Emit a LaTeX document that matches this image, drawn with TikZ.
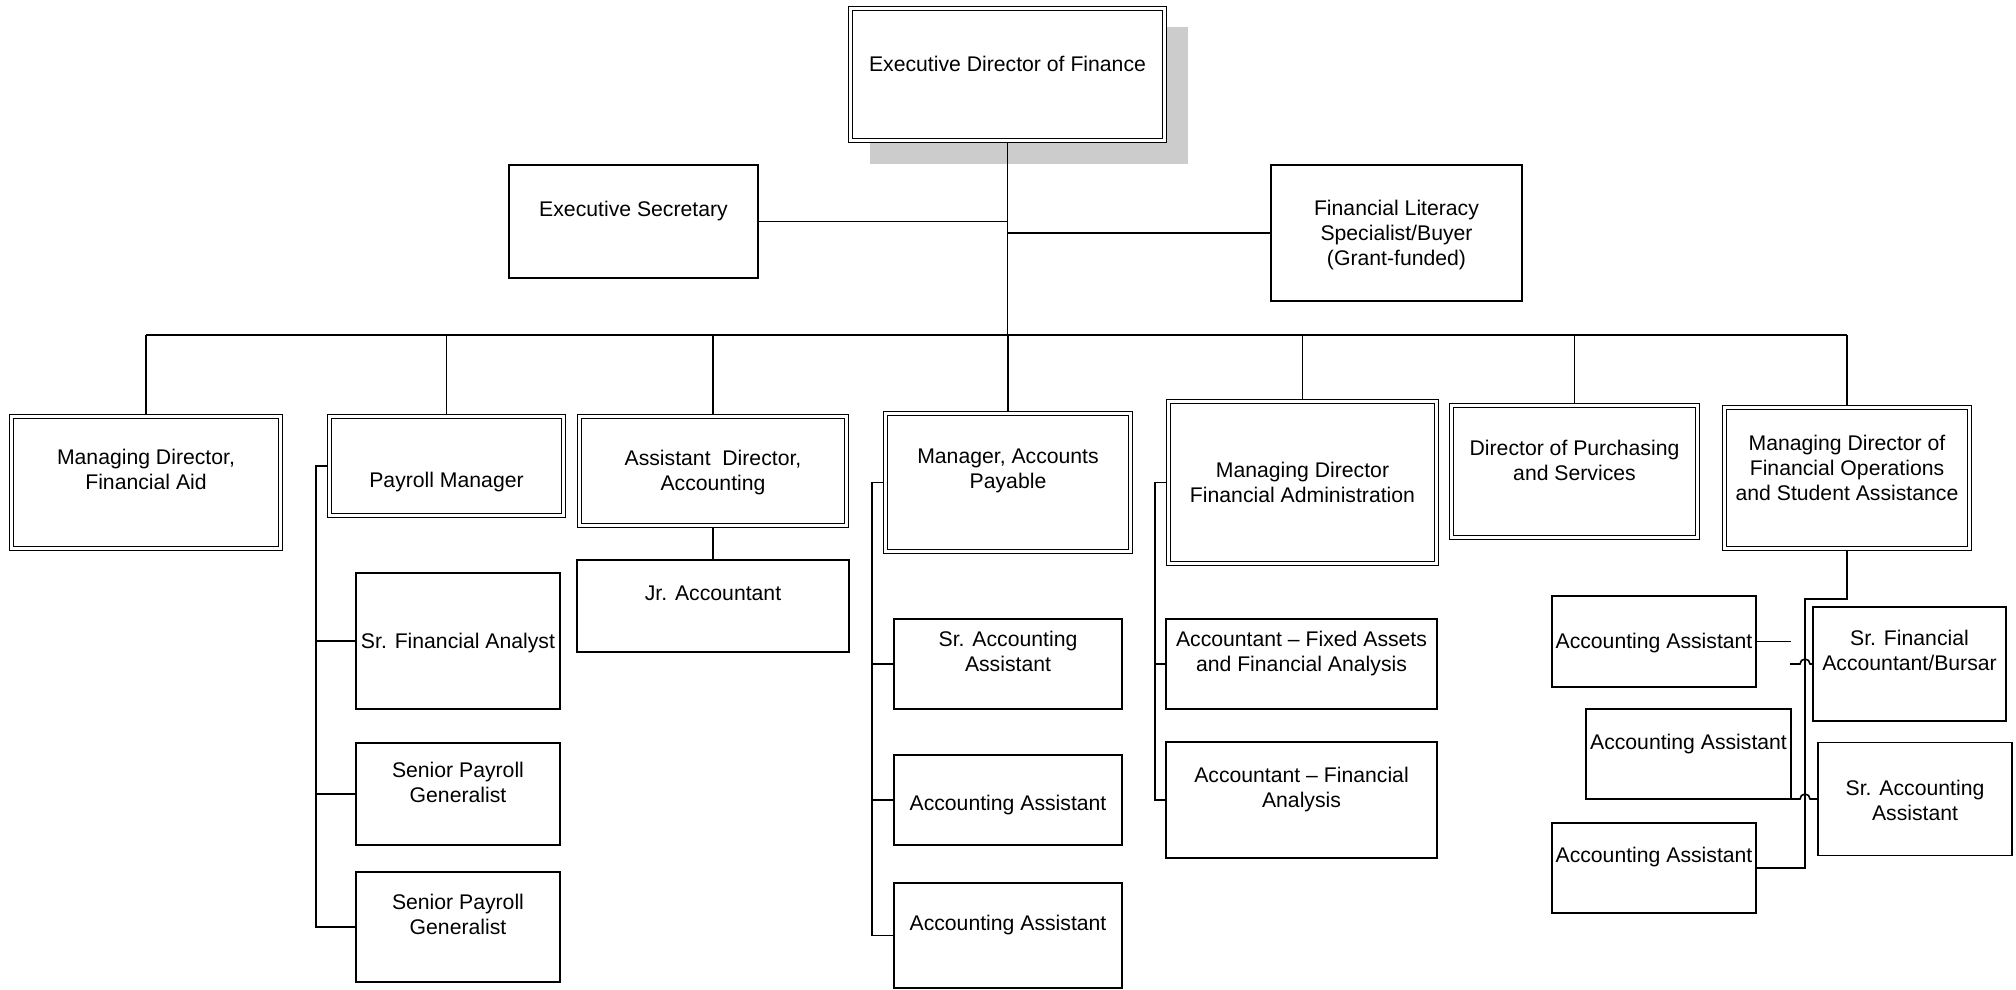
\documentclass[tikz,border=0pt]{standalone}
\usepackage{fontspec}
\setmainfont{Liberation Sans}
\usetikzlibrary{backgrounds}
\definecolor{ShadowGray}{HTML}{CCCCCC}
\newcommand{\roletext}[2]{\raisebox{#1pt}[0pt][0pt]{\begin{tabular}[t]{@{}c@{}}#2\end{tabular}}}

\begin{document}
\begin{tikzpicture}[x=1pt, y=-1pt,
  post/.style={draw, line width=1.5pt, fill=white, rectangle, inner sep=0pt, outer sep=0pt, font=\fontsize{21.2}{25.3}\selectfont},
  headpost/.style={post, double, double distance=3pt, line width=1.2pt},
  link/.style={line width=1.6pt}]
  \useasboundingbox (0,0) rectangle (2016,989);

  % Top level
  \node[headpost, minimum width=314, minimum height=132] (exec) at (1007.5,74.5) {\roletext{3.5}{Executive Director of Finance}};
  \node[post, minimum width=249, minimum height=113] (sec) at (633.5,221.5) {\roletext{5.5}{Executive Secretary}};
  \node[post, minimum width=251, minimum height=136] (lit) at (1396.5,233) {\roletext{18}{Financial Literacy\\Specialist/Buyer\\(Grant-funded)}};

  % Second row
  \node[headpost, minimum width=269, minimum height=132] (aid) at (146,482.5) {\roletext{18.5}{Managing Director,\\Financial Aid}};
  \node[headpost, minimum width=234, minimum height=99] (payroll) at (446.5,466) {\roletext{-21}{Payroll Manager}};
  \node[headpost, minimum width=267, minimum height=109] (asstdir) at (713,471) {\roletext{6}{Assistant~~Director,\\Accounting}};
  \node[headpost, minimum width=245, minimum height=138] (apmgr) at (1008,482.5) {\roletext{19.5}{Manager, Accounts\\Payable}};
  \node[headpost, minimum width=268, minimum height=162] (finadmin) at (1302.5,482.5) {\roletext{5.5}{Managing Director\\Financial Administration}};
  \node[headpost, minimum width=246, minimum height=132] (purch) at (1574.5,471.5) {\roletext{16.5}{Director of Purchasing\\and Services}};
  \node[headpost, minimum width=245, minimum height=141] (ops) at (1847,478) {\roletext{28}{Managing Director of\\Financial Operations\\and Student Assistance}};

  % Third row
  \node[post, minimum width=272, minimum height=92] (jracct) at (713,606) {\roletext{6}{Jr. Accountant}};
  \node[post, minimum width=204, minimum height=136] (sfa) at (458,641) {\roletext{-7}{Sr. Financial Analyst}};
  \node[post, minimum width=204, minimum height=102] (spg1) at (458,794) {\roletext{17}{Senior Payroll\\Generalist}};
  \node[post, minimum width=204, minimum height=110] (spg2) at (458,927) {\roletext{18}{Senior Payroll\\Generalist}};
  \node[post, minimum width=228, minimum height=90] (sraa) at (1008,664) {\roletext{18}{Sr. Accounting\\Assistant}};
  \node[post, minimum width=228, minimum height=90] (apaa1) at (1008,800) {\roletext{-10}{Accounting Assistant}};
  \node[post, minimum width=228, minimum height=105] (apaa2) at (1008,935.5) {\roletext{5.5}{Accounting Assistant}};
  \node[post, minimum width=271, minimum height=90] (fixed) at (1301.5,664) {\roletext{18}{Accountant -- Fixed Assets\\and Financial Analysis}};
  \node[post, minimum width=271, minimum height=116] (analysis) at (1301.5,800) {\roletext{18}{Accountant -- Financial\\Analysis}};

  % Operations group
  \node[post, minimum width=204, minimum height=91] (opsaa1) at (1654,641.5) {\roletext{-6.5}{Accounting Assistant}};
  \node[post, minimum width=193, minimum height=114] (bursar) at (1909.5,664) {\roletext{19}{Sr. Financial\\Accountant/Bursar}};
  \node[post, minimum width=205, minimum height=90] (opsaa2) at (1688.5,754) {\roletext{5}{Accounting Assistant}};
  \node[post, minimum width=194, minimum height=113] (sraa2) at (1915,799) {\roletext{4}{Sr. Accounting\\Assistant}};
  \node[post, minimum width=204, minimum height=90] (opsaa3) at (1654,868) {\roletext{6}{Accounting Assistant}};

  \begin{scope}[on background layer]
    % Shadow
    \fill[ShadowGray] (870,27) rectangle (1188,164);

    % Trunk and bus
    \coordinate (busL) at (146,335);
    \draw[link] (exec.south) -- (exec.south |- busL);
    \draw[link] (sec.east) -- (sec.east -| exec.south);
    \draw[link] (lit.west) -- (lit.west -| exec.south);
    \draw[link] (aid.north |- busL) -- (ops.north |- busL);
    \foreach \n in {aid,payroll,asstdir,apmgr,finadmin,purch,ops}
      \draw[link] (\n.north) -- (\n.north |- busL);

    % Payroll
    \draw[link] (payroll.west) -- ++(-13.5,0) coordinate (pspine) |- (spg2.west);
    \foreach \n in {sfa,spg1}
      \draw[link] (\n.west) -- (\n.west -| pspine);

    % Accounting
    \draw[link] (asstdir.south) -- (jracct.north);

    % Accounts payable
    \draw[link] (apmgr.west) -- ++(-13.5,0) coordinate (apspine) |- (apaa2.west);
    \foreach \n in {sraa,apaa1}
      \draw[link] (\n.west) -- (\n.west -| apspine);

    % Financial administration
    \draw[link] (finadmin.west) -- ++(-13.5,0) coordinate (faspine) |- (analysis.west);
    \draw[link] (fixed.west) -- (fixed.west -| faspine);

    % Operations
    \coordinate (opsturn) at (1805,599);
    \draw[link] (ops.south) |- (opsturn) |- (opsaa3.east);
    \draw[link] (opsaa1.east) -- ++(35,0);
    \draw[link] (bursar.west) -- ++(-3,0) arc[start angle=0, end angle=180, radius=5pt] -- ++(-10,0);
    \draw[link] (opsaa2.south east) -- ++(9,0) arc[start angle=180, end angle=0, radius=5pt] -- (sraa2.west);
  \end{scope}
\end{tikzpicture}
\end{document}
